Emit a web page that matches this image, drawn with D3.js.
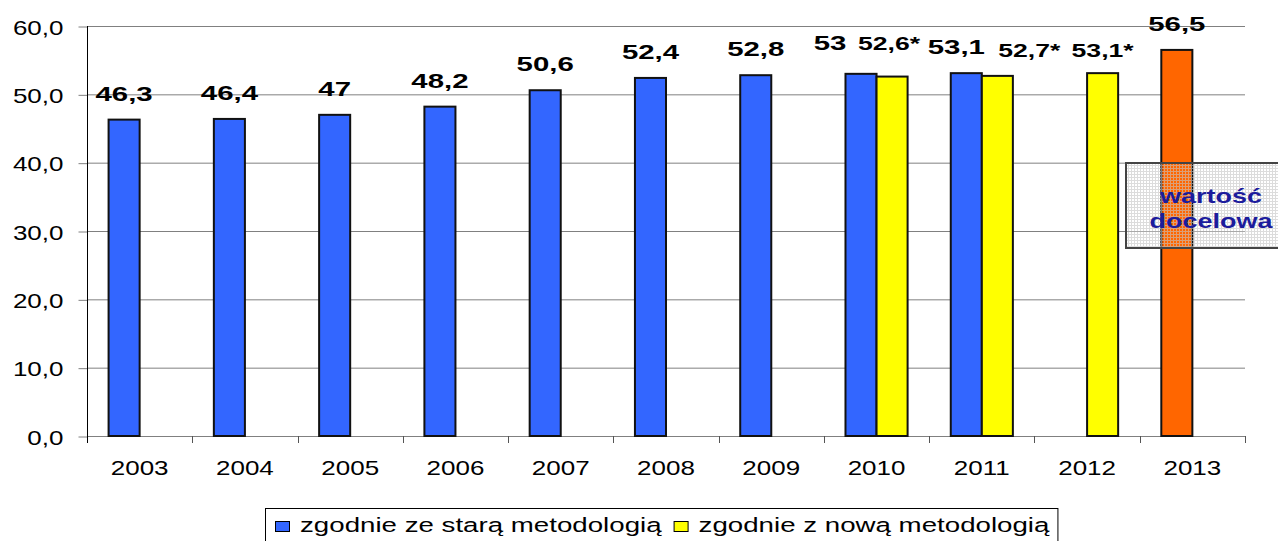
<!DOCTYPE html>
<html>
<head>
<meta charset="utf-8">
<script src="https://cdn.jsdelivr.net/npm/d3@7"></script>
<style>
  html, body { margin: 0; padding: 0; background: #fff; }
  svg { display: block; font-family: "Liberation Sans", Arial, sans-serif; }
</style>
</head>
<body>
<div id="chart"></div>
<script>
const years = ['2003', '2004', '2005', '2006', '2007', '2008', '2009', '2010', '2011', '2012', '2013'];
const oldMethod = [46.3, 46.4, 47, 48.2, 50.6, 52.4, 52.8, 53, 53.1, null, 56.5];
const newMethod = [null, null, null, null, null, null, null, 52.6, 52.7, 53.1, null];
const targetYear = '2013';
const yTicks = [0, 10, 20, 30, 40, 50, 60];
const seriesNames = ['zgodnie ze starą metodologią', 'zgodnie z nową metodologią'];
const targetNote = ['wartość', 'docelowa'];

const width = 1278, height = 541;
const margin = { top: 26, right: 33, bottom: 105, left: 87 };
const colors = { old: '#3366ff', new: '#ffff00', target: '#ff6600' };

// hand placed labels in the original, shifted from the bar centre (px)
const nudge = {
  'old-2010': [-31, -5], 'old-2011': [-10, 0],
  'new-2010': [-3, -8], 'new-2011': [32, 0], 'new-2012': [0, 3]
};

const fmt = v => String(v).replace('.', ',');

const svg = d3.select('#chart').append('svg')
  .attr('width', width)
  .attr('height', height);

const defs = svg.append('defs');
const pat = defs.append('pattern')
  .attr('id', 'grid')
  .attr('width', 3).attr('height', 3)
  .attr('patternUnits', 'userSpaceOnUse');
pat.append('path')
  .attr('d', 'M0 0.5H3M0.5 0V3')
  .attr('stroke', '#c4c4c4')
  .attr('stroke-width', 1)
  .attr('opacity', 0.6);

// text in the source picture is stretched sideways
function wideText(parent, x, y, str, size, sx, anchor) {
  return parent.append('text')
    .attr('transform', `translate(${x},${y}) scale(${sx},1)`)
    .attr('text-anchor', anchor || 'middle')
    .style('font-size', size + 'px')
    .text(str);
}

const x0 = d3.scaleBand()
  .domain(years)
  .range([margin.left, width - margin.right])
  .paddingInner(0.41)
  .paddingOuter(0.205);

const x1 = d3.scaleBand()
  .domain(['old', 'new'])
  .range([0, x0.bandwidth()]);

const y = d3.scaleLinear()
  .domain([0, 60])
  .range([height - margin.bottom, margin.top]);

// gridlines
svg.append('g')
  .selectAll('line')
  .data(yTicks.slice(1))
  .enter()
  .append('line')
  .attr('x1', margin.left)
  .attr('x2', width - margin.right)
  .attr('y1', d => y(d) + 0.5)
  .attr('y2', d => y(d) + 0.5)
  .attr('stroke', '#808080')
  .attr('stroke-width', 1);

// y axis
const yAxis = svg.append('g')
  .attr('transform', `translate(${margin.left + 0.5},0.5)`)
  .call(d3.axisLeft(y).tickValues(yTicks).tickSize(9).tickSizeOuter(0)
    .tickFormat(d => d3.format('.1f')(d).replace('.', ',')));
yAxis.select('.domain').remove();
yAxis.selectAll('line').attr('stroke', '#808080');
yAxis.selectAll('text').remove();
yAxis.selectAll('.tick').each(function (d) {
  wideText(d3.select(this), -24, 7.5, d3.format('.1f')(d).replace('.', ','), 20, 1.3, 'end')
    .attr('fill', '#000');
});

// x axis
const step = x0.step();
const bounds = years.map(d => x0(d) - (step - x0.bandwidth()) / 2).concat([width - margin.right]);
svg.append('line')
  .attr('x1', margin.left).attr('x2', width - margin.right)
  .attr('y1', y(0) + 0.5).attr('y2', y(0) + 0.5)
  .attr('stroke', '#808080');
svg.append('g')
  .selectAll('line')
  .data(bounds)
  .enter()
  .append('line')
  .attr('x1', d => Math.round(d) + 0.5).attr('x2', d => Math.round(d) + 0.5)
  .attr('y1', y(0)).attr('y2', y(0) + 7)
  .attr('stroke', '#555');
const xLabels = svg.append('g');
years.forEach(d => {
  wideText(xLabels, x0(d) + x0.bandwidth() / 2, y(0) + 39, d, 20, 1.3);
});

svg.append('line')
  .attr('x1', margin.left + 0.5).attr('x2', margin.left + 0.5)
  .attr('y1', y(60)).attr('y2', y(0) + 7)
  .attr('stroke', '#000');

// bars
const rows = [];
years.forEach((yr, i) => {
  if (oldMethod[i] != null) rows.push({ year: yr, key: 'old', value: oldMethod[i] });
  if (newMethod[i] != null) rows.push({ year: yr, key: 'new', value: newMethod[i] });
});

svg.append('g')
  .selectAll('rect')
  .data(rows)
  .enter()
  .append('rect')
  .attr('x', d => x0(d.year) + x1(d.key))
  .attr('y', d => y(d.value))
  .attr('width', x1.bandwidth())
  .attr('height', d => y(0) - y(d.value))
  .attr('fill', d => d.year === targetYear ? colors.target : colors[d.key])
  .attr('stroke', '#111')
  .attr('stroke-width', 2);

// target value note
const note = svg.append('g');
note.append('rect')
  .attr('x', 1126).attr('y', 163)
  .attr('width', 172).attr('height', 85)
  .attr('fill', 'url(#grid)')
  .attr('stroke', '#444')
  .attr('stroke-width', 2);
targetNote.forEach((t, i) => {
  wideText(note, 1211, 203 + i * 25, t, 20, 1.35)
    .attr('fill', '#1c1c9c')
    .style('font-weight', 'bold');
});

// value labels
const labels = svg.append('g').style('font-weight', 'bold');
rows.forEach(d => {
  const n = nudge[d.key + '-' + d.year] || [0, 0];
  const cx = x0(d.year) + x1(d.key) + x1.bandwidth() / 2 + n[0];
  const cy = y(d.value) - 19 + n[1];
  if (d.key === 'old') wideText(labels, cx, cy, fmt(d.value), 21, 1.4);
  else wideText(labels, cx, cy, fmt(d.value) + '*', 19, 1.4);
});

// legend
const legend = svg.append('g');
const legBox = legend.append('rect')
  .attr('x', 265.5).attr('y', 508.5)
  .attr('height', 50)
  .attr('fill', '#fff')
  .attr('stroke', '#000');
let lx = 275;
const legS = 1.42;
seriesNames.forEach((name, i) => {
  legend.append('rect')
    .attr('x', lx + 0.5).attr('y', 521.5)
    .attr('width', 14).attr('height', 10)
    .attr('fill', i === 0 ? colors.old : colors.new)
    .attr('stroke', '#000');
  const t = wideText(legend, lx + 25, 532, name, 19.5, legS, 'start');
  lx += 25 + t.node().getComputedTextLength() * legS + 12;
});
legBox.attr('width', lx - 12 + 8 - 265);
</script>
</body>
</html>
